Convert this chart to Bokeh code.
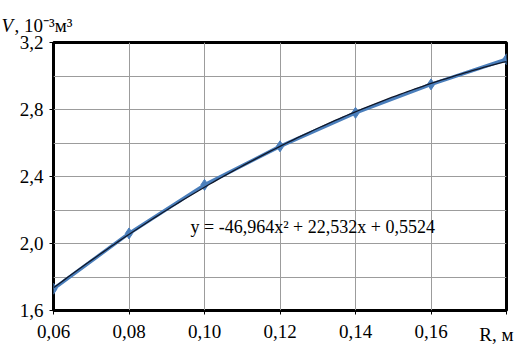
import numpy as np
from bokeh.plotting import figure
from bokeh.models import Range1d, FixedTicker, CustomJSTickFormatter, Label, ColumnDataSource
from bokeh.embed import file_html
from bokeh.resources import INLINE

# ---- data ----
R_VALUES = [0.06, 0.08, 0.10, 0.12, 0.14, 0.16, 0.18]
V_VALUES = [1.73, 2.06, 2.35, 2.58, 2.78, 2.95, 3.10]
TREND_COEFFS = [-46.964, 22.532, 0.5524]   # from the equation shown on the chart
X_TICKS = [0.06, 0.08, 0.10, 0.12, 0.14, 0.16, 0.18]
Y_TICKS = [1.6, 2.0, 2.4, 2.8, 3.2]
Y_MINOR = [1.8, 2.2, 2.6, 3.0]
EQUATION = "y = -46,964x\u00b2 + 22,532x + 0,5524"
X_TITLE = "R, м"
Y_TITLE_VAR = "V"
Y_TITLE_UNIT = ", 10\u207b\u00b3м\u00b3"

FONT = "Liberation Serif, Times New Roman, serif"
BLUE = "#4a7ebb"
GRID = "#9c9c9c"

p = figure(width=519, height=345, output_backend="svg", toolbar_location=None,
           x_range=Range1d(0.06, 0.18), y_range=Range1d(1.6, 3.2),
           min_border_left=53, min_border_right=13, min_border_top=42,
           min_border_bottom=35)
p.background_fill_color = "white"
p.border_fill_color = "white"
p.outline_line_color = "black"
p.outline_line_width = 3

# axes
p.xaxis.ticker = FixedTicker(ticks=X_TICKS)
p.xaxis.formatter = CustomJSTickFormatter(args=dict(last=X_TICKS[-1]), code="""
    if (Math.abs(tick - last) < 1e-9) return '';
    return tick.toFixed(2).replace('.', ',');
""")
p.yaxis.ticker = FixedTicker(ticks=Y_TICKS, minor_ticks=Y_MINOR)
p.yaxis.formatter = CustomJSTickFormatter(code="return tick.toFixed(1).replace('.', ',');")
for ax in (p.xaxis, p.yaxis):
    ax.axis_line_color = None
    ax.major_tick_out = 4
    ax.major_tick_in = 0
    ax.minor_tick_out = 0
    ax.minor_tick_in = 0
    ax.major_tick_line_color = "black"
    ax.major_label_text_font = FONT
    ax.major_label_text_font_size = "19px"
    ax.major_label_text_color = "black"
p.xaxis.major_label_standoff = 10
p.yaxis.major_label_standoff = 6

p.xgrid.grid_line_color = GRID
p.ygrid.grid_line_color = GRID
p.ygrid.minor_grid_line_color = GRID

# data series
src = ColumnDataSource(dict(r=R_VALUES, v=V_VALUES))
p.line("r", "v", source=src, line_color=BLUE, line_width=3.5)
p.scatter("r", "v", source=src, marker="diamond", size=11, fill_color=BLUE,
          line_color=BLUE)

# polynomial trendline (from the displayed equation)
xt = np.linspace(R_VALUES[0], R_VALUES[-1], 120)
yt = np.polyval(TREND_COEFFS, xt)
p.line(xt, yt, line_color="#10182a", line_width=1.3)

# equation text
p.add_layout(Label(x=0.0963, y=2.096, text=EQUATION, text_font=FONT,
                   text_font_size="18px", text_color="black",
                   text_baseline="alphabetic", text_align="left"))

# texts outside the frame live in side panels (not clipped); positioned in data space
p.add_layout(Label(x=0.18, y=1.6, x_offset=7, y_offset=-24, text=X_TITLE,
                   text_font=FONT, text_font_size="19px", text_color="black",
                   text_align="right", text_baseline="alphabetic"), "above")
p.add_layout(Label(x=0.06, y=3.2, x_offset=-52, y_offset=17, text=Y_TITLE_VAR,
                   text_font=FONT, text_font_size="19px", text_font_style="italic",
                   text_color="black", text_align="left",
                   text_baseline="alphabetic"), "left")
p.add_layout(Label(x=0.06, y=3.2, x_offset=-39, y_offset=17, text=Y_TITLE_UNIT,
                   text_font=FONT, text_font_size="19px",
                   text_color="black", text_align="left",
                   text_baseline="alphabetic"), "above")

open("out.html", "w").write(file_html(p, INLINE))
